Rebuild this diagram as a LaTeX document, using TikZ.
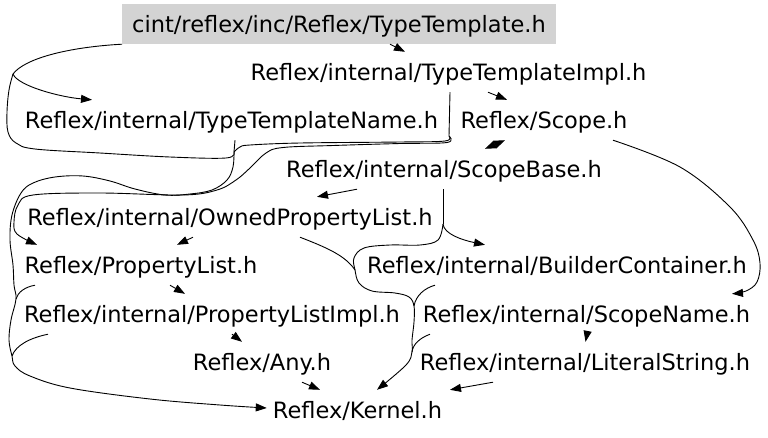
\documentclass[tikz,border=0pt]{standalone}
\usepackage{fontspec}
\setmainfont{DejaVu Sans}
\usetikzlibrary{arrows.meta}
\definecolor{ttgray}{RGB}{211,211,211}
\begin{document}
\begin{tikzpicture}[x=1pt,y=-1pt,
  hdr/.style={font=\fontsize{22.5}{26}\selectfont, text height=19pt, text depth=3pt,
              inner xsep=10pt, inner ysep=9pt, anchor=base},
  wire/.style={line width=0.9pt},
  inc/.style={line width=0.9pt, -{Triangle[length=11pt,width=8pt]}},
  both/.style={line width=0.9pt, {Triangle[length=11pt,width=8pt]}-{Triangle[length=11pt,width=8pt]}}
]
\fill[white] (0,0) rectangle (768,437);
\useasboundingbox (0,0) rectangle (768,437);

% nodes
\node[hdr, fill=ttgray] (tt) at (339,32) {cint/reflex/inc/Reflex/TypeTemplate.h};
\node[hdr] (impl) at (448.5,80) {Reflex/internal/TypeTemplateImpl.h};
\node[hdr] (ttn) at (231.5,128) {Reflex/internal/TypeTemplateName.h};
\node[hdr] (scope) at (544,128) {Reflex/Scope.h};
\node[hdr] (sbase) at (444,177) {Reflex/internal/ScopeBase.h};
\node[hdr] (opl) at (230,225) {Reflex/internal/OwnedPropertyList.h};
\node[hdr] (pl) at (141,273) {Reflex/PropertyList.h};
\node[hdr] (bc) at (557,273) {Reflex/internal/BuilderContainer.h};
\node[hdr] (pli) at (212,322) {Reflex/internal/PropertyListImpl.h};
\node[hdr] (sn) at (586.5,322) {Reflex/internal/ScopeName.h};
\node[hdr] (any) at (262,370) {Reflex/Any.h};
\node[hdr] (ls) at (585,370) {Reflex/internal/LiteralString.h};
\node[hdr] (kern) at (357.5,418) {Reflex/Kernel.h};

% junctions
\coordinate (jL) at (13,74);
\coordinate (j1) at (234,152);
\coordinate (jI) at (449,136);
\coordinate (jS) at (443,224);
\coordinate (jK1) at (16,299);
\coordinate (jK2) at (12,356);
\coordinate (jR1) at (355,270);
\coordinate (jR2) at (414,306);
\coordinate (jR3) at (412,352);

% direct edges
\draw[inc] ([xshift=51]tt.south) -- ([xshift=-43.5]impl.north);
\draw[inc] ([xshift=39.5]impl.south) -- ([xshift=-37]scope.north);
\draw[both] ([xshift=41]sbase.north) -- ([xshift=-39]scope.south);
\draw[inc] ([xshift=-87]sbase.south) -- ([xshift=87]opl.north);
\draw[inc] ([xshift=-37]opl.south) -- ([xshift=36]pl.north);
\draw[inc] ([xshift=29]pl.south) -- ([xshift=-27]pli.north);
\draw[inc] ([xshift=20]pli.south) -- ([xshift=-20]any.north);
\draw[inc] ([xshift=40]any.south) -- ([xshift=-37.5]kern.north);
\draw[inc] ([xshift=-92]ls.south) -- ([xshift=92.5]kern.north);
\draw[inc] ([xshift=0.5]sn.south) -- ([xshift=0.5]ls.north);

% TypeTemplate left route
\draw[wire] (tt.south west) .. controls (70,47) and (25,58) .. (jL);
\draw[inc] (jL) .. controls (18,86) and (60,97) .. ([xshift=-139.5]ttn.north);
\draw[wire] plot[smooth,tension=0.6] coordinates {(jL) (9,90) (7,112) (8,132) (16,143) (35,149) (100,153) (170,157) (226,158) (j1)};
\draw[wire] ([xshift=3.5]ttn.south) -- (j1);

% TypeTemplateImpl routes
\draw[wire] ([xshift=1.5]impl.south) -- (jI);
\draw[wire] plot[smooth,tension=0.6] coordinates {(jI) (445,141) (400,142) (300,143) (250,145) (240,147) (j1)};
\draw[inc] plot[smooth,tension=0.6] coordinates {(jI) (447,142.5) (400,143.5) (333,145.5) (283,147.5) (266,153) (250,168) (236,180) (217,190) (183,195) (100,193) (33,195) (18,205) (14,222) (17,234) ([xshift=-104]pl.north)};

% merged route to Kernel on the left
\draw[inc] plot[smooth,tension=0.6] coordinates {(j1) (233,167) (227,180) (212,190) (190,194) (165,195) (135,189) (110,181) (83,176) (55,177) (33,183) (21,193) (12,215) (10,240) (13,265) (14,285) (jK1) (11,320) (9,340) (jK2) (15,366) (30,376) (70,388) (150,399) (220,405) ([xshift=4pt,yshift=2pt]kern.west)};
\draw[wire] ([xshift=-106]pl.south) .. controls (25,287) and (18,292) .. (jK1);
\draw[wire] ([xshift=-164]pli.south) .. controls (30,338) and (16,345) .. (jK2);

% ScopeBase routes
\draw[wire] ([xshift=-1]sbase.south) -- (jS);
\draw[inc] (jS) .. controls (444,234) and (462,240) .. ([xshift=-72]bc.north);
\draw[inc] plot[smooth,tension=0.6] coordinates {(jS) (438,240) (420,245) (390,245) (364,248) (354,258) (jR1) (359,283) (372,291) (395,293) (409,297) (jR2) (414,322) (412,340) (jR3) (406,365) ([xshift=19.5]kern.north)};
\draw[wire] ([xshift=70]opl.south) .. controls (325,247) and (345,255) .. (jR1);
\draw[wire] ([xshift=-122]bc.south) .. controls (425,288) and (416,295) .. (jR2);
\draw[wire] ([xshift=-156.5]sn.south) .. controls (420,338) and (413,344) .. (jR3);

% Scope -> ScopeName
\draw[inc] plot[smooth,tension=0.6] coordinates {([xshift=69]scope.south) (680,167) (730,207) (753,240) (760,263) (757,282) (746,291) ([xshift=145.5]sn.north)};
\end{tikzpicture}
\end{document}
